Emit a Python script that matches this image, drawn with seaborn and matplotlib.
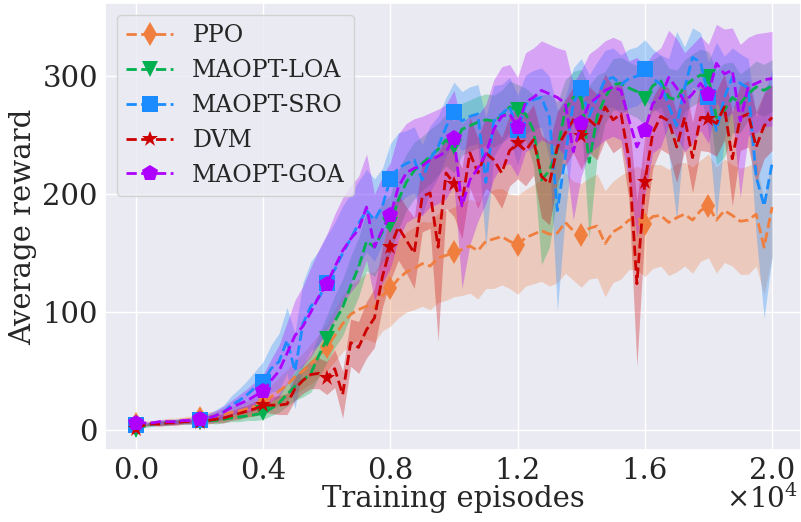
import numpy as np
import matplotlib
matplotlib.use('Agg')
import matplotlib.pyplot as plt
import seaborn as sns
from matplotlib.ticker import MultipleLocator, FuncFormatter

episodes = np.arange(0, 20001, 250)

labels = ["PPO", "MAOPT-LOA", "MAOPT-SRO", "DVM", "MAOPT-GOA"]
colors = ["#F07F3F", "#00B04F", "#1A8CFF", "#CC0000", "#AE00FF"]
markers = ["d", "v", "s", "*", "p"]

ppo_mean = [5, 5, 6, 6, 7, 7, 8, 9, 10,
            11, 12, 13, 15, 16, 18, 20, 22,
            28, 33, 38, 45, 50, 56, 63, 70,
            80, 90, 98, 102, 105, 104, 114, 120,
            128, 134, 137, 141, 139, 146, 148, 151,
            153, 156, 152, 160, 162, 164, 160, 157,
            163, 166, 169, 166, 167, 176, 169, 165,
            171, 173, 158, 168, 172, 178, 180, 175,
            181, 182, 176, 180, 183, 178, 186, 190,
            178, 186, 182, 177, 178, 183, 155, 189]
loa_mean = [0, 3, 5, 6, 6, 7, 7, 7, 7,
            8, 8, 9, 10, 11, 12, 13, 14,
            18, 23, 30, 37, 42, 48, 63, 77,
            92, 104, 122, 138, 160, 155, 168, 174,
            195, 210, 220, 226, 232, 238, 246, 240,
            255, 258, 261, 263, 262, 266, 274, 271,
            268, 254, 212, 220, 238, 272, 282, 284,
            227, 266, 282, 293, 294, 290, 287, 281,
            292, 296, 282, 280, 292, 297, 301, 299,
            265, 271, 282, 277, 285, 291, 288, 292]
sro_mean = [4, 5, 5, 6, 6, 7, 7, 8, 8,
            10, 12, 15, 21, 25, 30, 36, 41,
            52, 58, 76, 50, 90, 105, 112, 125,
            136, 150, 162, 175, 186, 178, 190, 213,
            222, 226, 229, 212, 230, 240, 257, 270,
            262, 266, 268, 210, 262, 268, 274, 254,
            276, 280, 282, 265, 186, 232, 277, 290,
            266, 282, 297, 299, 293, 298, 300, 306,
            298, 293, 275, 258, 290, 316, 312, 282,
            254, 282, 299, 294, 290, 215, 190, 226]
dvm_mean = [1, 4, 5, 5, 6, 6, 7, 7, 7,
            8, 9, 10, 12, 14, 16, 18, 21,
            21, 21, 22, 35, 42, 47, 48, 44,
            52, 30, 74, 70, 85, 95, 130, 155,
            172, 161, 150, 198, 201, 155, 218, 209,
            192, 235, 218, 235, 229, 218, 237, 243,
            237, 246, 215, 209, 240, 252, 263, 249,
            263, 257, 274, 263, 268, 230, 124, 210,
            252, 266, 262, 240, 265, 231, 265, 264,
            260, 274, 230, 265, 268, 240, 258, 265]
goa_mean = [6, 6, 6, 7, 7, 7, 8, 8, 9,
            10, 12, 15, 19, 22, 25, 29, 33,
            42, 50, 65, 80, 88, 100, 113, 124,
            138, 152, 162, 170, 189, 155, 170, 182,
            206, 218, 222, 224, 229, 232, 236, 248,
            190, 212, 222, 234, 255, 266, 268, 257,
            278, 282, 288, 285, 282, 277, 236, 260,
            277, 282, 288, 291, 288, 263, 240, 254,
            277, 282, 299, 290, 278, 285, 294, 285,
            311, 302, 305, 262, 291, 294, 297, 298]

ppo_std = [2, 2, 2, 2, 3, 3, 3, 3, 3,
           4, 4, 5, 5, 6, 7, 8, 9,
           10, 12, 13, 14, 15, 17, 18, 20,
           22, 24, 25, 26, 28, 30, 30, 32,
           33, 34, 35, 36, 37, 38, 38, 38,
           39, 40, 41, 40, 42, 41, 40, 42,
           41, 42, 43, 44, 42, 43, 42, 44,
           43, 44, 45, 43, 44, 42, 44, 45,
           44, 43, 45, 46, 44, 45, 43, 44,
           45, 44, 43, 45, 46, 44, 40, 42]
loa_std = [1, 1, 2, 2, 2, 2, 2, 2, 2,
           2, 3, 3, 3, 4, 4, 5, 5,
           6, 8, 10, 12, 14, 16, 18, 20,
           22, 24, 25, 25, 25, 25, 25, 25,
           25, 24, 24, 23, 23, 22, 22, 22,
           22, 22, 22, 22, 22, 22, 22, 22,
           22, 30, 72, 65, 40, 25, 22, 22,
           65, 35, 22, 22, 22, 22, 22, 22,
           22, 22, 25, 25, 22, 22, 22, 22,
           40, 40, 30, 25, 22, 22, 22, 22]
sro_std = [1, 1, 2, 2, 2, 2, 2, 3, 3,
           4, 5, 6, 8, 10, 12, 14, 17,
           20, 24, 28, 32, 35, 38, 40, 40,
           40, 40, 38, 36, 35, 35, 32, 30,
           30, 28, 28, 30, 28, 26, 25, 25,
           25, 25, 25, 55, 30, 25, 25, 30,
           25, 25, 25, 35, 85, 50, 30, 25,
           35, 30, 25, 25, 25, 25, 25, 25,
           25, 25, 40, 80, 35, 25, 25, 30,
           75, 35, 25, 25, 25, 50, 95, 80]
dvm_std = [1, 1, 1, 2, 2, 2, 2, 2, 2,
           3, 3, 4, 4, 5, 5, 6, 6,
           7, 8, 9, 10, 11, 12, 13, 14,
           16, 20, 20, 22, 24, 25, 26, 28,
           28, 28, 30, 30, 30, 80, 30, 28,
           30, 30, 30, 30, 30, 30, 30, 30,
           30, 30, 35, 35, 30, 28, 28, 28,
           28, 28, 28, 28, 28, 35, 70, 40,
           30, 28, 28, 30, 28, 30, 28, 28,
           28, 28, 40, 28, 28, 30, 28, 28]
goa_std = [1, 1, 1, 2, 2, 2, 2, 2, 3,
           3, 4, 5, 6, 8, 10, 12, 14,
           18, 22, 26, 30, 34, 38, 40, 42,
           45, 45, 45, 45, 45, 45, 45, 45,
           45, 42, 42, 42, 40, 40, 40, 40,
           70, 55, 45, 42, 42, 42, 42, 42,
           42, 42, 42, 42, 42, 45, 58, 45,
           42, 42, 42, 42, 42, 50, 76, 55,
           42, 42, 40, 42, 42, 42, 40, 42,
           33, 38, 36, 65, 42, 42, 40, 40]

means = [ppo_mean, loa_mean, sro_mean, dvm_mean, goa_mean]
stds = [ppo_std, loa_std, sro_std, dvm_std, goa_std]

sns.set_theme(style="darkgrid")
plt.rcParams['font.family'] = ['DejaVu Serif']
plt.rcParams['mathtext.fontset'] = 'dejavuserif'

fig = plt.figure(figsize=(8.01, 5.22), dpi=100)
ax = fig.add_axes([0.131, 0.138, 0.869, 0.856])

for name, m, s, c, mk in zip(labels, means, stds, colors, markers):
    m = np.asarray(m, float)
    s = np.asarray(s, float)
    ax.fill_between(episodes, m - s, m + s, color=c, alpha=0.3, linewidth=0)
    sns.lineplot(x=episodes, y=m, ax=ax, color=c, linestyle='--', linewidth=2,
                 marker=mk, markersize=12, markeredgewidth=0,
                 markevery=slice(0, 80, 8), label=name)

ax.set_xlim(-975, 20910)
ax.set_ylim(-17, 362)
ax.xaxis.set_major_locator(MultipleLocator(4000))
ax.yaxis.set_major_locator(MultipleLocator(100))
ax.xaxis.set_major_formatter(FuncFormatter(lambda v, p: f"{v / 1e4:.1f}"))
ax.tick_params(labelsize=21, length=0, pad=5)
ax.set_xlabel("Training episodes", fontsize=21, labelpad=0)
ax.set_ylabel("Average reward", fontsize=21)
fig.text(0.9963, 0.027, r"$\times10^{4}$", fontsize=20, ha="right", va="baseline")
ax.legend(loc="upper left", fontsize=17)

fig.savefig("out.png", dpi=100)
